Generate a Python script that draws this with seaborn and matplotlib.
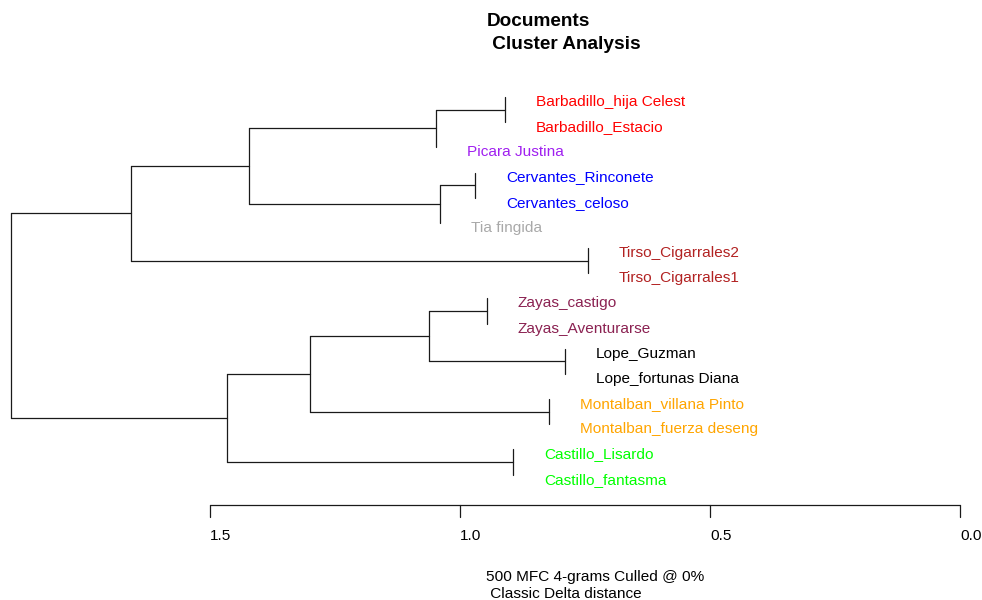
import matplotlib
matplotlib.use("Agg")
import matplotlib.pyplot as plt
import seaborn as sns
import pandas as pd

# Leaves, top to bottom
leaf_labels = [
    "Barbadillo_hija Celest", "Barbadillo_Estacio", "Picara Justina",
    "Cervantes_Rinconete", "Cervantes_celoso", "Tia fingida",
    "Tirso_Cigarrales2", "Tirso_Cigarrales1",
    "Zayas_castigo", "Zayas_Aventurarse",
    "Lope_Guzman", "Lope_fortunas Diana",
    "Montalban_villana Pinto", "Montalban_fuerza deseng",
    "Castillo_Lisardo", "Castillo_fantasma",
]
leaf_colors = [
    "#FF0000", "#FF0000", "#A020F0",
    "#0000FF", "#0000FF", "#A9A9A9",
    "#B22222", "#B22222",
    "#8B2252", "#8B2252",
    "#000000", "#000000",
    "#FFA500", "#FFA500",
    "#00FF00", "#00FF00",
]

# hclust-style merges: negative = leaf (1-based), positive = earlier merge (1-based)
merge_a = [-1, 1, -4, 3, 2, -7, 5, -9, -11, 8, -13, 10, -15, 12, 7]
merge_b = [-2, -3, -5, -6, 4, -8, 6, -10, -12, 9, -14, 11, -16, 13, 14]
merge_heights = [0.910, 1.048, 0.970, 1.041, 1.422, 0.745, 1.658,
                 0.947, 0.790, 1.063, 0.823, 1.300, 0.894, 1.466, 1.898]

axis_ticks = [1.5, 1.0, 0.5, 0.0]
tick_labels = ["1.5", "1.0", "0.5", "0.0"]

title_lines = ["Documents", " Cluster Analysis"]
subtitle_lines = ["500 MFC 4-grams Culled @ 0%", " Classic Delta distance"]

sns.set_theme(style="white")
plt.rcParams["font.family"] = ["Liberation Sans", "DejaVu Sans"]
plt.rcParams["text.color"] = "black"

W, H = 982, 600
fig = plt.figure(figsize=(W / 100, H / 100), dpi=100)
ax = fig.add_axes([0, 0, 1, 1])

# x: distance (reversed, 0 on the right); y: leaf slot, top to bottom
PX_PER_UNIT = 500.0
X0_PX = 960.0
ax.set_xlim(X0_PX / PX_PER_UNIT, (X0_PX - W) / PX_PER_UNIT)
SLOT = 25.17
TOP = 97.0
ax.set_ylim((H - TOP) / SLOT, -TOP / SLOT)
ax.axis("off")

# --- build dendrogram segments -------------------------------------------
node_y = []
leaf_x = [None] * len(leaf_labels)
rows = []
seg = 0


def child_pos(c):
    if c < 0:
        return c, float(-c - 1), None
    return c, node_y[c - 1], merge_heights[c - 1]


for k, (a, b) in enumerate(zip(merge_a, merge_b)):
    h = merge_heights[k]
    _, ya, ha = child_pos(a)
    _, yb, hb = child_pos(b)
    node_y.append((ya + yb) / 2.0)
    # vertical bar joining the two children
    rows += [dict(seg=seg, x=h, y=ya), dict(seg=seg, x=h, y=yb)]
    seg += 1
    for c, yc, hc in ((a, ya, ha), (b, yb, hb)):
        if c < 0:
            leaf_x[-c - 1] = h
        else:
            rows += [dict(seg=seg, x=h, y=yc), dict(seg=seg, x=hc, y=yc)]
            seg += 1

segs = pd.DataFrame(rows)
sns.lineplot(data=segs, x="x", y="y", units="seg", estimator=None, sort=False,
             color="#1a1a1a", linewidth=0.9, ax=ax, legend=False)

# --- leaf labels ------------------------------------------------------------
LABEL_GAP = 31 / PX_PER_UNIT
BASE_OFF = 9.0 / SLOT
for i, (lab, col) in enumerate(zip(leaf_labels, leaf_colors)):
    ax.text(leaf_x[i] - LABEL_GAP, i + BASE_OFF, lab, color=col,
            fontsize=11.1, ha="left", va="baseline")

# --- distance axis ----------------------------------------------------------
tr = ax.get_xaxis_transform()
AX_Y = 1 - 505 / H
TICK_Y = 1 - 517 / H
LAB_Y = 1 - 540 / H
ax.plot([axis_ticks[0], axis_ticks[-1]], [AX_Y, AX_Y], transform=tr,
        color="#1a1a1a", lw=0.9, clip_on=False)
for t, lab in zip(axis_ticks, tick_labels):
    ax.plot([t, t], [AX_Y, TICK_Y], transform=tr, color="#1a1a1a", lw=0.9,
            clip_on=False)
    ax.text(t, LAB_Y, lab, transform=tr, fontsize=11.1, ha="left",
            va="baseline", color="black")

# --- titles -----------------------------------------------------------------
fig.text(487 / W, 1 - 26.5 / H, title_lines[0], fontsize=13.7, fontweight="bold",
         ha="left", va="baseline")
fig.text(487 / W, 1 - 49 / H, title_lines[1], fontsize=13.7, fontweight="bold",
         ha="left", va="baseline")
fig.text(486 / W, 1 - 581 / H, subtitle_lines[0], fontsize=11.1,
         ha="left", va="baseline")
fig.text(486 / W, 1 - 598.5 / H, subtitle_lines[1], fontsize=11.1,
         ha="left", va="baseline")

fig.savefig("out.png", dpi=100, facecolor="white")
